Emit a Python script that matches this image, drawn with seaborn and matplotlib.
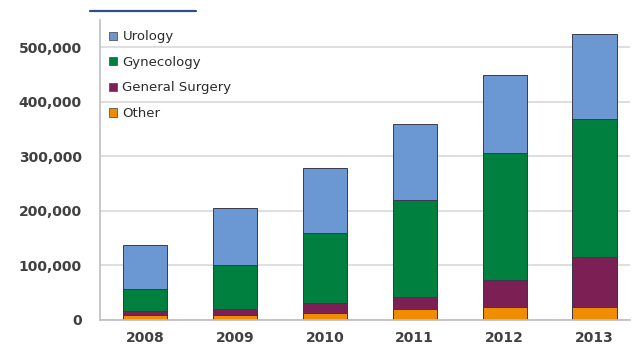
import numpy as np
import pandas as pd
import matplotlib
matplotlib.use("Agg")
import matplotlib.pyplot as plt
import seaborn as sns
from matplotlib.ticker import FuncFormatter
from matplotlib.lines import Line2D
from matplotlib.patches import Patch

# Data (procedures per year)
years = ["2008", "2009", "2010", "2011", "2012", "2013"]
other = [9000, 10000, 12000, 20000, 23000, 24000]
general_surgery = [7000, 11000, 19000, 22000, 50000, 91000]
gynecology = [41000, 79000, 129000, 178000, 233000, 254000]
urology = [80000, 106000, 119000, 139000, 144000, 155000]

series = ["Urology", "Gynecology", "General Surgery", "Other"]
colors = {"Urology": "#6b98d3", "Gynecology": "#00803f",
          "General Surgery": "#7b1f55", "Other": "#f08c00"}

df = pd.DataFrame({"year": years, "Other": other, "General Surgery": general_surgery,
                   "Gynecology": gynecology, "Urology": urology})

# cumulative tops, bottom-up order
stack_order = ["Other", "General Surgery", "Gynecology", "Urology"]
cum = df[stack_order].cumsum(axis=1)

sns.set_style("white")
fig = plt.figure(figsize=(6.43, 3.55), dpi=100)
ax = fig.add_axes([0.1555, 0.0986, 0.825, 0.845])

# draw tallest first so the lower segments sit on top
for name in reversed(stack_order):
    sns.barplot(x=df["year"], y=cum[name], color=colors[name], ax=ax,
                width=0.49, edgecolor="#3a3a4a", linewidth=0.7, saturation=1,
                order=years)

ax.set_ylim(0, 550000)
ax.set_xlim(-0.5, 5.4)
ax.set_yticks(np.arange(0, 500001, 100000))
ax.yaxis.set_major_formatter(FuncFormatter(lambda v, p: f"{int(v):,}"))
ax.set_xlabel("")
ax.set_ylabel("")

ax.yaxis.grid(True, color="#d9d9d9", linewidth=1.2)
ax.set_axisbelow(True)
for s in ["top", "right"]:
    ax.spines[s].set_visible(False)
ax.spines["left"].set_color("#bfbfbf")
ax.spines["bottom"].set_color("#bfbfbf")
ax.spines["left"].set_linewidth(1.2)
ax.spines["bottom"].set_linewidth(1.2)

ax.tick_params(axis="y", length=5, color="#bfbfbf", labelsize=10, labelcolor="#404040", pad=8)
ax.tick_params(axis="x", length=0, labelsize=10, labelcolor="#404040", pad=8)
for lab in ax.get_yticklabels() + ax.get_xticklabels():
    lab.set_fontweight("bold")

# category separator ticks on x axis
ax.set_xticks(np.arange(-0.5, 5.5, 1), minor=True)
ax.tick_params(axis="x", which="minor", length=5, color="#bfbfbf", direction="out")

handles = [Patch(facecolor=colors[n], edgecolor="#555555", linewidth=0.6) for n in series]
leg = ax.legend(handles, series, loc="upper left", bbox_to_anchor=(-0.005, 1.005),
                frameon=False, fontsize=9.5, handlelength=0.6, handleheight=0.6,
                handletextpad=0.4, labelspacing=0.95)
for t in leg.get_texts():
    t.set_color("#2b2b2b")

# decorative rule at the top of the slide
fig.add_artist(Line2D([0.14, 0.305], [0.968, 0.968], color="#2f4f8a", linewidth=1.6))

fig.savefig("out.png", dpi=100)
